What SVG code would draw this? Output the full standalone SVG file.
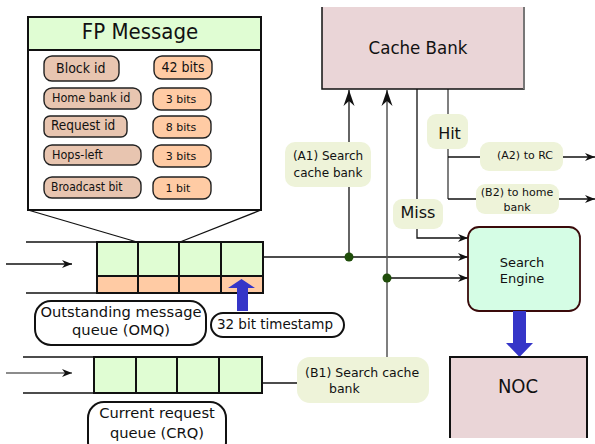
<svg xmlns="http://www.w3.org/2000/svg" width="595" height="444" viewBox="0 0 595 444">
<style>
text{font-family:"DejaVu Sans","Liberation Sans",sans-serif;fill:#111}
.cn{font-family:"DejaVu Sans Condensed","DejaVu Sans",sans-serif}
.ln{stroke:#111;stroke-width:1.3;fill:none}
.gl{stroke:#555;stroke-width:1.5;fill:none}
.cell{fill:#e0fdd3;stroke:#111;stroke-width:2}
.org{fill:#ffcba4;stroke:#111;stroke-width:2}
.fld{fill:#e8c5b0;stroke:#222;stroke-width:1.4}
.val{fill:#ffcba4;stroke:#222;stroke-width:1.4}
.tag{fill:#eef3d9;stroke:none}
.pill{fill:#fff;stroke:#111;stroke-width:2}
.dot{fill:#1f4d0a}
.blue{fill:#3535c8}
</style>
<defs>
<marker id="ah" markerWidth="12" markerHeight="10" viewBox="-11 -5 12 10" refX="0" refY="0" orient="auto" markerUnits="userSpaceOnUse">
<path d="M0,0 L-10,-4 L-7,0 L-10,4 Z" fill="#111"/>
</marker>
<marker id="ahu" markerWidth="18" markerHeight="12" viewBox="-17 -6 18 12" refX="0" refY="0" orient="auto" markerUnits="userSpaceOnUse">
<path d="M0,0 L-16,-5.5 L-11,0 L-16,5.5 Z" fill="#111"/>
</marker>
</defs>

<g id="connectors">
<line class="ln" x1="6" y1="264" x2="72" y2="264" marker-end="url(#ah)"/>
<line x1="6" y1="373" x2="72" y2="373" stroke="#666" stroke-width="1.5" marker-end="url(#ah)"/>
<line class="ln" x1="28" y1="210" x2="137" y2="242"/>
<line class="ln" x1="261" y1="210" x2="180" y2="242"/>
<polyline class="ln" points="263,257 468,257" marker-end="url(#ah)"/>
<line class="ln" x1="349" y1="257" x2="349" y2="90" marker-end="url(#ahu)"/>
<line class="gl" x1="387" y1="357" x2="387" y2="90" marker-end="url(#ahu)"/>
<polyline class="ln" points="387,278 468,278" marker-end="url(#ah)"/>
<polyline class="ln" points="417,89 417,238 468,238" marker-end="url(#ah)"/>
<polyline class="gl" points="448,89 448,199"/>
<line class="ln" x1="448" y1="157" x2="595" y2="157" marker-end="url(#ah)"/>
<line class="ln" x1="448" y1="199" x2="595" y2="199" marker-end="url(#ah)"/>
<line class="ln" x1="262" y1="383" x2="297" y2="383"/>
<circle class="dot" cx="349" cy="257" r="4.5"/>
<circle class="dot" cx="387" cy="278" r="4.5"/>
</g>

<g id="fp-message">
<rect x="28" y="17" width="233" height="193" fill="#fff" stroke="#111" stroke-width="2"/>
<rect x="28" y="17" width="233" height="33" fill="#e0fdd3" stroke="#111" stroke-width="2"/>
<text class="cn" x="140" y="39" font-size="22" text-anchor="middle">FP Message</text>
<rect class="fld" x="44" y="56" width="75" height="25" rx="8"/>
<text class="cn" x="56" y="73" font-size="14">Block id</text>
<rect class="val" x="154" y="56" width="58" height="23" rx="8"/>
<text class="cn" x="183" y="72" font-size="14" text-anchor="middle">42 bits</text>
<rect class="fld" x="44" y="88" width="97" height="21" rx="8"/>
<text class="cn" x="52" y="102" font-size="12.5">Home bank id</text>
<rect class="val" x="153" y="88" width="58" height="22" rx="8"/>
<text x="181" y="103" font-size="11" text-anchor="middle">3 bits</text>
<rect class="fld" x="44" y="116" width="83" height="21" rx="6"/>
<text class="cn" x="51" y="130" font-size="13.5">Request id</text>
<rect class="val" x="153" y="116" width="58" height="22" rx="8"/>
<text x="181" y="131" font-size="11" text-anchor="middle">8 bits</text>
<rect class="fld" x="44" y="145" width="97" height="20" rx="8"/>
<text class="cn" x="52" y="159" font-size="12.5">Hops-left</text>
<rect class="val" x="153" y="145" width="58" height="22" rx="8"/>
<text x="181" y="160" font-size="11" text-anchor="middle">3 bits</text>
<rect class="fld" x="44" y="177" width="97" height="21" rx="8"/>
<text class="cn" x="51" y="191" font-size="12">Broadcast bit</text>
<rect class="val" x="153" y="177" width="58" height="22" rx="8"/>
<text x="178" y="192" font-size="11" text-anchor="middle">1 bit</text>
</g>

<g id="omq">
<line class="ln" x1="26" y1="242" x2="97" y2="242" stroke-width="2"/>
<line class="ln" x1="26" y1="293" x2="97" y2="293" stroke-width="2"/>
<rect class="cell" x="97" y="242" width="41" height="34"/>
<rect class="cell" x="138" y="242" width="41" height="34"/>
<rect class="cell" x="179" y="242" width="42" height="34"/>
<rect class="cell" x="221" y="242" width="42" height="34"/>
<rect class="org" x="97" y="276" width="41" height="17"/>
<rect class="org" x="138" y="276" width="41" height="17"/>
<rect class="org" x="179" y="276" width="42" height="17"/>
<rect class="org" x="221" y="276" width="42" height="17"/>
<polygon class="blue" points="237,311 248,311 248,288 255,288 241.5,279 228,288 237,288"/>
</g>

<g id="omq-label">
<rect class="pill" x="35" y="301" width="171" height="44" rx="16"/>
<text x="121" y="317" font-size="14.7" text-anchor="middle">Outstanding message</text>
<text x="121" y="335" font-size="14.7" text-anchor="middle">queue (OMQ)</text>
</g>

<g id="timestamp-label">
<rect class="pill" x="211" y="313" width="133" height="24" rx="12"/>
<text x="275" y="329" font-size="13.5" text-anchor="middle">32 bit timestamp</text>
</g>

<g id="crq">
<line class="ln" x1="23" y1="357" x2="94" y2="357" stroke-width="2"/>
<line class="ln" x1="23" y1="393" x2="94" y2="393" stroke-width="2"/>
<rect class="cell" x="94" y="357" width="42" height="36"/>
<rect class="cell" x="136" y="357" width="41" height="36"/>
<rect class="cell" x="177" y="357" width="42" height="36"/>
<rect class="cell" x="219" y="357" width="43" height="36"/>
</g>

<g id="crq-label">
<rect class="pill" x="88" y="402" width="138" height="56" rx="16"/>
<text x="157" y="418" font-size="14.7" text-anchor="middle">Current request</text>
<text x="157" y="438" font-size="14.7" text-anchor="middle">queue (CRQ)</text>
</g>

<g id="cache-bank">
<rect x="322" y="7" width="202" height="82" fill="#ead5d7" stroke="none"/>
<polyline points="322,7 322,89 524,89 524,7" fill="none" stroke="#111" stroke-width="1.5"/>
<line x1="524" y1="7" x2="524" y2="89" stroke="#777" stroke-width="2"/>
<text class="cn" x="418" y="54" font-size="18.5" text-anchor="middle">Cache Bank</text>
</g>

<g id="label-a1">
<rect class="tag" x="285" y="142" width="86" height="45" rx="10"/>
<text x="328" y="160" font-size="12" text-anchor="middle">(A1) Search</text>
<text x="328" y="177" font-size="12" text-anchor="middle">cache bank</text>
</g>

<g id="label-hit">
<rect class="tag" x="427" y="114" width="41" height="35" rx="9"/>
<text x="449.5" y="139" font-size="16" text-anchor="middle">Hit</text>
</g>

<g id="label-miss">
<rect class="tag" x="393" y="199" width="50" height="30" rx="9"/>
<text x="418" y="218" font-size="16" text-anchor="middle">Miss</text>
</g>

<g id="label-a2">
<rect class="tag" x="480" y="142" width="83" height="29" rx="9"/>
<text x="525" y="159" font-size="11" text-anchor="middle">(A2) to RC</text>
</g>

<g id="label-b2">
<rect class="tag" x="476" y="184" width="83" height="30" rx="9"/>
<text x="517" y="196" font-size="11" text-anchor="middle">(B2) to home</text>
<text x="517" y="211" font-size="11" text-anchor="middle">bank</text>
</g>

<g id="label-b1">
<rect class="tag" x="297" y="357" width="132" height="46" rx="13"/>
<text x="305" y="377" font-size="12.5">(B1) Search cache</text>
<text x="329" y="393" font-size="12.5">bank</text>
</g>

<g id="search-engine">
<rect x="468" y="227" width="112" height="84" rx="11" fill="#d5fde5" stroke="#3a0a0a" stroke-width="1.8"/>
<text x="522" y="267" font-size="13" text-anchor="middle">Search</text>
<text x="522" y="283" font-size="13" text-anchor="middle">Engine</text>
<polygon class="blue" points="513,311 526,311 526,343 533,343 519.5,357 506,343 513,343"/>
</g>

<g id="noc">
<rect x="450" y="357" width="137" height="81" fill="#ead5d7" stroke="none"/>
<polyline points="450,438 450,357 587,357 587,438" fill="none" stroke="#111" stroke-width="2"/>
<text class="cn" x="518" y="393" font-size="20" text-anchor="middle">NOC</text>
</g>
</svg>
